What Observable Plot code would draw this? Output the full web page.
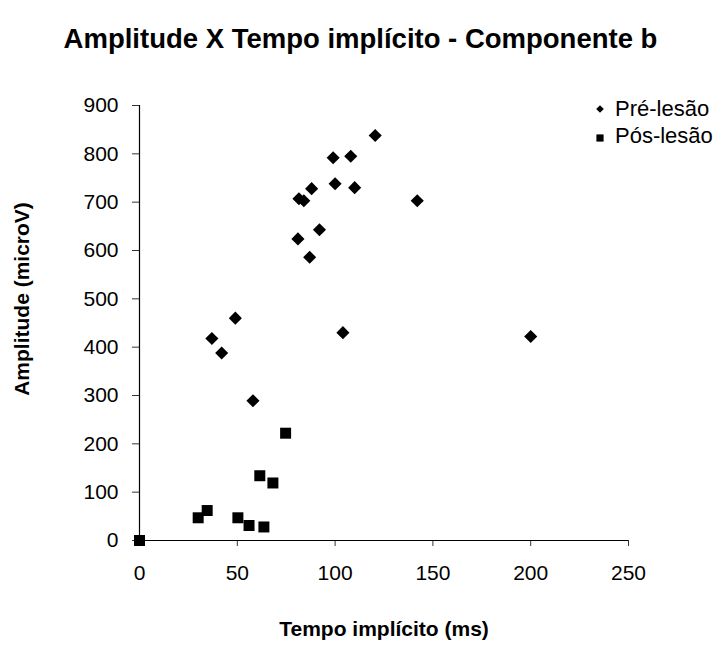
<!DOCTYPE html>
<html>
<head>
<meta charset="utf-8">
<script src="https://cdn.jsdelivr.net/npm/d3@7"></script>
<script src="https://cdn.jsdelivr.net/npm/@observablehq/plot@0.6"></script>
<style>
  html, body { margin: 0; padding: 0; background: #fff; }
  #wrap { position: relative; width: 723px; height: 645px; font-family: "Liberation Sans", Arial, sans-serif; }
  #legend { position: absolute; left: 595px; top: 95px; font-size: 22px; color: #000; }
  .row { display: flex; align-items: center; height: 27px; line-height: 27px; white-space: nowrap; }
  .row svg { margin-right: 10px; flex: none; }
</style>
</head>
<body>
<div id="wrap"></div>
<script>
const titleText = "Amplitude X Tempo implícito - Componente b";
const xLabel = "Tempo implícito (ms)";
const yLabel = "Amplitude (microV)";
const seriesNames = ["Pré-lesão", "Pós-lesão"];
const xTicks = [0, 50, 100, 150, 200, 250];
const yTicks = [0, 100, 200, 300, 400, 500, 600, 700, 800, 900];

const preX = [37, 42, 49, 58, 81, 81.5, 84, 87, 88, 92, 99, 100, 104, 108, 110, 120.5, 142, 200];
const preY = [418, 388, 460, 289, 624, 707, 703, 586, 728, 643, 792, 738, 430, 795, 730, 838, 703, 422];
const postX = [0, 30, 34.6, 50.3, 56, 61.5, 63.6, 68.2, 74.7];
const postY = [0, 47, 62, 47, 31, 134, 28, 119, 222];

const pre = preX.map((x, i) => ({x, y: preY[i]}));
const post = postX.map((x, i) => ({x, y: postY[i]}));

const chart = Plot.plot({
  width: 723,
  height: 645,
  marginLeft: 139,
  marginRight: 95,
  marginTop: 105,
  marginBottom: 105,
  style: {fontFamily: "\"Liberation Sans\", Arial, sans-serif", fontSize: "21px", color: "#000", background: "#fff", overflow: "visible"},
  x: {domain: [0, 250]},
  y: {domain: [0, 900]},
  marks: [
    Plot.axisX({ticks: xTicks, tickSize: 6, tickPadding: 19, fontSize: 21, label: null, stroke: "#333"}),
    Plot.axisY({ticks: yTicks, tickSize: 7, tickPadding: 14, fontSize: 21, label: null, stroke: "#333"}),
    Plot.ruleX([0], {stroke: "#000", strokeWidth: 1.2}),
    Plot.ruleY([0], {stroke: "#000", strokeWidth: 1.2}),
    Plot.dot(pre, {x: "x", y: "y", symbol: "diamond2", r: 5.9, fill: "#000", stroke: null}),
    Plot.dot(post, {x: "x", y: "y", symbol: "square", r: 6.2, fill: "#000", stroke: null}),
    Plot.text([titleText], {frameAnchor: "top", textAnchor: "middle", dx: -23.5, dy: -77.5, fontSize: 27.5, fontWeight: "bold", fill: "#000"}),
    Plot.text([xLabel], {frameAnchor: "bottom", textAnchor: "middle", dx: 0, dy: 95, fontSize: 21, fontWeight: "bold", fill: "#000"}),
    Plot.text([yLabel], {frameAnchor: "left", textAnchor: "middle", dx: -117, dy: -24, rotate: -90, fontSize: 21, fontWeight: "bold", fill: "#000"})
  ]
});

const wrap = document.getElementById("wrap");
wrap.appendChild(chart);

const legend = document.createElement("div");
legend.id = "legend";
const symbols = [
  '<svg width="10" height="10" viewBox="-5 -5 10 10"><path d="M0,-3.8L3.8,0L0,3.8L-3.8,0Z" fill="#000"/></svg>',
  '<svg width="10" height="10" viewBox="-5 -5 10 10" style="margin-top:5px"><rect x="-3.6" y="-3.6" width="7.2" height="7.2" fill="#000"/></svg>'
];
seriesNames.forEach((name, i) => {
  const row = document.createElement("div");
  row.className = "row";
  row.innerHTML = symbols[i] + "<span>" + name + "</span>";
  legend.appendChild(row);
});
wrap.appendChild(legend);
</script>
</body>
</html>
